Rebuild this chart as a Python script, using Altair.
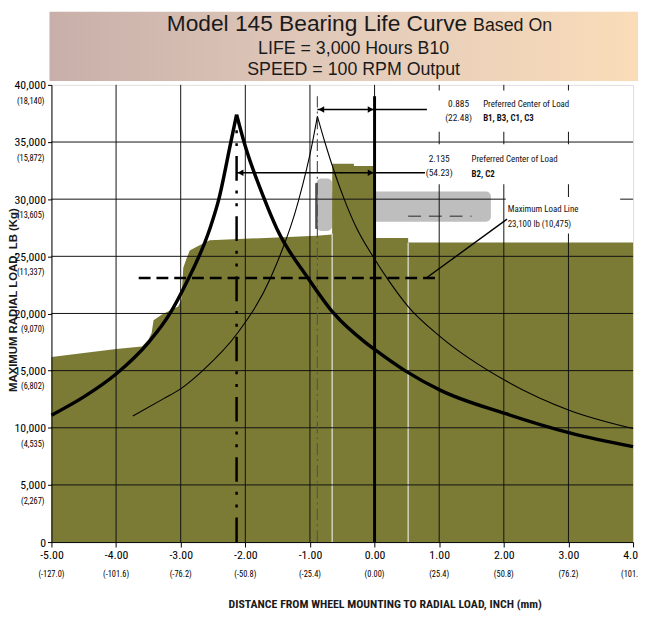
import altair as alt
import pandas as pd

# ---------------- data ----------------
x_ticks = [-5, -4, -3, -2, -1, 0, 1, 2, 3, 4]
x_mm = ["(-127.0)", "(-101.6)", "(-76.2)", "(-50.8)", "(-25.4)", "(0.00)",
        "(25.4)", "(50.8)", "(76.2)", "(101.6)"]
y_ticks = [0, 5000, 10000, 15000, 20000, 25000, 30000, 35000, 40000]
y_kg = ["", "(2,267)", "(4,535)", "(6,802)", "(9,070)", "(11,337)",
        "(13,605)", "(15,872)", "(18,140)"]
grid_x = [-4, -3, -2, -1, 0, 1, 2, 3]
grid_y = [5000, 10000, 15000, 20000, 25000, 30000, 35000]

# olive envelope of maximum load (steps drawn as near-vertical edges)
area_x = [-5.0, -4.0, -3.6, -3.5, -3.45, -3.42, -3.29, -3.04, -2.99, -2.96,
          -2.91, -2.86, -2.73, -2.55, -0.9, -0.657, -0.655, -0.321, -0.319,
          -0.001, 0.001, 0.519, 0.521, 4.0]
area_y = [16200, 16900, 17100, 17700, 18300, 19400, 19900, 20600, 21200,
          24000, 24800, 25500, 25900, 26400, 26800, 26900, 33100, 33100,
          32900, 32900, 26600, 26600, 26200, 26200]

# thick life curve (center of load -2.135)
thick_left_x = [-5.0, -4.5, -4.0, -3.5, -3.165, -2.91, -2.55, -2.41, -2.224, -2.135]
thick_left_y = [11100, 12700, 14700, 17450, 20000, 22700, 27390, 30000, 35000, 37400]
thick_right_x = [-2.135, -2.02, -1.705, -1.51, -1.03, -0.63, -0.14, 0.0, 0.47,
                 1.03, 2.03, 3.02, 4.0]
thick_right_y = [37400, 35000, 30000, 27390, 23100, 20000, 17450, 16850, 15000,
                 13250, 11230, 9550, 8350]

# thin life curve (center of load -0.885)
thin_left_x = [-3.74, -3.27, -2.99, -2.66, -2.12, -1.61, -1.18, -0.96, -0.885]
thin_left_y = [11030, 12530, 13450, 15000, 18290, 23100, 29800, 35000, 37250]
thin_right_x = [-0.885, -0.77, -0.47, -0.29, 0.0, 0.18, 0.52, 1.03, 2.03, 3.02, 4.0]
thin_right_y = [37250, 35000, 30000, 27600, 24770, 23200, 20600, 17910, 14110,
                11520, 9935]

max_load = 23100
max_load_x = [-3.65, 1.02]

# ---------------- styles ----------------
OLIVE = "#7b7b36"
NARROW = "Liberation Sans Narrow, Arial Narrow, Roboto Condensed, DejaVu Sans Condensed, sans-serif"
SANS = "Liberation Sans, Arial, Helvetica, sans-serif"
W, H = 589, 463

xs = alt.Scale(domain=[-5, 4], nice=False, zero=False)
ys = alt.Scale(domain=[0, 40000], nice=False, zero=True)

one = pd.DataFrame({"a": [0]})

# ---------------- title block ----------------
grad = alt.Gradient(
    gradient="linear",
    stops=[alt.GradientStop(color="#c8afa9", offset=0),
           alt.GradientStop(color="#e3cbbb", offset=0.5),
           alt.GradientStop(color="#fadcb8", offset=1)],
    x1=0, x2=1, y1=0, y2=0)
title_box = alt.Chart(one).mark_rect(color=grad).encode(
    x=alt.value(-2), x2=alt.value(594), y=alt.value(-74), y2=alt.value(-4))


def ptext(txt, x, y, size, align="center", font=SANS, weight="normal", angle=0, baseline="alphabetic"):
    return alt.Chart(one).mark_text(
        text=txt, font=font, fontSize=size, align=align, baseline=baseline,
        fontWeight=weight, color="#1a1a1a", angle=angle
    ).encode(x=alt.value(x), y=alt.value(y))


t1 = ptext("Model 145 Bearing Life Curve", 421, -55, 23, align="right")
t1b = ptext("Based On", 427, -55, 18, align="left")
t2 = ptext("LIFE = 3,000 Hours B10", 306, -31, 18)
t3 = ptext("SPEED = 100 RPM Output", 306, -10, 18)

# ---------------- gray bar (behind the envelope) ----------------
gray_df = pd.DataFrame({"x": [-0.9, -0.9], "x2": [1.8, -0.656],
                        "y": [28020, 27210], "y2": [30670, 31815]})
gray = alt.Chart(gray_df).mark_rect(color="#bebebe", cornerRadius=5).encode(
    x=alt.X("x:Q", scale=xs,
            axis=alt.Axis(values=x_ticks, grid=False, title=None, zindex=1,
                          labelExpr="datum.value < 0 ? '-' + format(-datum.value, '.2f') : format(datum.value, '.2f')",
                          labelFont=NARROW, labelFontSize=12, labelColor="black",
                          tickSize=5, labelPadding=3, tickColor="black", domainColor="black",
                          labelFlush=False, labelOverlap=False, labelBound=False)),
    x2="x2:Q",
    y=alt.Y("y:Q", scale=ys,
            axis=alt.Axis(values=y_ticks, grid=False, title=None, zindex=1,
                          labelExpr="format(datum.value, ',.0f')",
                          labelFont=NARROW, labelFontSize=12, labelColor="black",
                          tickSize=4, labelPadding=2, tickColor="black", domainColor="black",
                          labelOverlap=False)),
    y2="y2:Q")
gray_dash = alt.Chart(pd.DataFrame({"x": [0.52], "x2": [1.5], "y": [28510]})).mark_rule(
    color="#5a5a5a", strokeWidth=1.5, strokeDash=[13, 8]).encode(
    x=alt.X("x:Q", scale=xs), x2="x2:Q", y=alt.Y("y:Q", scale=ys))
gray_edge = alt.Chart(pd.DataFrame({"x": [-0.9], "y": [27400], "y2": [31400]})).mark_rule(
    color="#505050", strokeWidth=2.5).encode(
    x=alt.X("x:Q", scale=xs), y=alt.Y("y:Q", scale=ys), y2="y2:Q")

# ---------------- envelope ----------------
area_df = pd.DataFrame({"x": area_x, "y": area_y})
area = alt.Chart(area_df).mark_area(color=OLIVE, interpolate="linear").encode(
    x=alt.X("x:Q", scale=xs), y=alt.Y("y:Q", scale=ys))

light_df = pd.DataFrame({"x": [-0.656, 0.52], "y": [0, 0], "y2": [27000, 26200]})
light = alt.Chart(light_df).mark_rule(color="#d2d2bc", strokeWidth=1.5).encode(
    x=alt.X("x:Q", scale=xs), y=alt.Y("y:Q", scale=ys), y2="y2:Q")

# ---------------- grid ----------------
hgrid = alt.Chart(pd.DataFrame({"y": grid_y, "x": -5, "x2": 4})).mark_rule(
    color="#111", strokeWidth=1).encode(
    x=alt.X("x:Q", scale=xs), x2="x2:Q", y=alt.Y("y:Q", scale=ys))
vgrid = alt.Chart(pd.DataFrame({"x": grid_x, "y": 0, "y2": 40000})).mark_rule(
    color="#111", strokeWidth=1).encode(
    x=alt.X("x:Q", scale=xs), y=alt.Y("y:Q", scale=ys), y2="y2:Q")

# white label boxes
box_df = pd.DataFrame({"x": [0.83, 0.80, 2.03], "x2": [3.85, 3.85, 3.8],
                       "y": [35900, 31300, 27000], "y2": [39500, 34800, 30200]})
boxes = alt.Chart(box_df).mark_rect(color="white").encode(
    x=alt.X("x:Q", scale=xs), x2="x2:Q", y=alt.Y("y:Q", scale=ys), y2="y2:Q")

# ---------------- vertical reference lines ----------------
vthick = alt.Chart(pd.DataFrame({"x": [-2.135], "y": [0], "y2": [36600]})).mark_rule(
    color="black", strokeWidth=2.5, strokeDash=[25, 10, 3, 10, 3, 10]).encode(
    x=alt.X("x:Q", scale=xs), y=alt.Y("y:Q", scale=ys), y2="y2:Q")
vthin = alt.Chart(pd.DataFrame({"x": [-0.885], "y": [0], "y2": [39000]})).mark_rule(
    color="#555", strokeWidth=1.2, strokeDash=[12, 4, 2, 4]).encode(
    x=alt.X("x:Q", scale=xs), y=alt.Y("y:Q", scale=ys), y2="y2:Q")
vzero = alt.Chart(pd.DataFrame({"x": [0.0], "y": [0], "y2": [39000]})).mark_rule(
    color="black", strokeWidth=3).encode(
    x=alt.X("x:Q", scale=xs), y=alt.Y("y:Q", scale=ys), y2="y2:Q")

# ---------------- life curves ----------------
def curve_df(lx, ly, rx, ry):
    return pd.DataFrame({"x": lx + rx, "y": ly + ry,
                         "b": ["L"] * len(lx) + ["R"] * len(rx)})


thick = alt.Chart(curve_df(thick_left_x, thick_left_y, thick_right_x, thick_right_y)).mark_line(
    color="black", strokeWidth=3.5, interpolate="monotone").encode(
    x=alt.X("x:Q", scale=xs), y=alt.Y("y:Q", scale=ys), detail="b:N")
thin = alt.Chart(curve_df(thin_left_x, thin_left_y, thin_right_x, thin_right_y)).mark_line(
    color="black", strokeWidth=1.1, interpolate="monotone").encode(
    x=alt.X("x:Q", scale=xs), y=alt.Y("y:Q", scale=ys), detail="b:N")

# max load line
mload = alt.Chart(pd.DataFrame({"x": [max_load_x[0]], "x2": [max_load_x[1]], "y": [max_load]})).mark_rule(
    color="black", strokeWidth=2.5, strokeDash=[12, 6]).encode(
    x=alt.X("x:Q", scale=xs), x2="x2:Q", y=alt.Y("y:Q", scale=ys))
leader = alt.Chart(pd.DataFrame({"x": [0.8], "x2": [2.05], "y": [max_load], "y2": [28250]})).mark_rule(
    color="black", strokeWidth=1.4).encode(
    x=alt.X("x:Q", scale=xs), x2="x2:Q", y=alt.Y("y:Q", scale=ys), y2="y2:Q")

# dimension arrows
arr_df = pd.DataFrame({"x": [-0.885, -2.135], "x2": [0.81, 0.78], "y": [37840, 32310]})
arr_lines = alt.Chart(arr_df).mark_rule(color="black", strokeWidth=1.5).encode(
    x=alt.X("x:Q", scale=xs), x2="x2:Q", y=alt.Y("y:Q", scale=ys))
head_l = alt.Chart(pd.DataFrame({"x": [-0.885, -2.135], "y": [37840, 32310]})).mark_point(
    shape="triangle-left", filled=True, color="black", size=45, opacity=1, xOffset=4).encode(
    x=alt.X("x:Q", scale=xs), y=alt.Y("y:Q", scale=ys))
head_r = alt.Chart(pd.DataFrame({"x": [0.0, 0.0], "y": [37840, 32310]})).mark_point(
    shape="triangle-right", filled=True, color="black", size=45, opacity=1, xOffset=-4).encode(
    x=alt.X("x:Q", scale=xs), y=alt.Y("y:Q", scale=ys))

# ---------------- annotation texts ----------------
ann_c = pd.DataFrame({"x": [1.30, 1.30, 1.0, 1.0],
                      "y": [38358, 37062, 33520, 32310],
                      "t": ["0.885", "(22.48)", "2.135", "(54.23)"]})
ann_l = pd.DataFrame({"x": [1.68, 1.50, 2.06, 2.06],
                      "y": [38358, 33520, 29114, 27819],
                      "t": ["Preferred Center of Load", "Preferred Center of Load",
                            "Maximum Load Line", "23,100 lb (10,475)"]})
ann_b = pd.DataFrame({"x": [1.68, 1.50], "y": [37062, 32230],
                      "t": ["B1, B3, C1, C3", "B2, C2"]})
txt_c = alt.Chart(ann_c).mark_text(font=NARROW, fontSize=9.5, align="center", baseline="middle", color="#111").encode(
    x=alt.X("x:Q", scale=xs), y=alt.Y("y:Q", scale=ys), text="t:N")
txt_l = alt.Chart(ann_l).mark_text(font=NARROW, fontSize=9, align="left", baseline="middle", color="#111").encode(
    x=alt.X("x:Q", scale=xs), y=alt.Y("y:Q", scale=ys), text="t:N")
txt_b = alt.Chart(ann_b).mark_text(font=NARROW, fontSize=9, fontWeight="bold", align="left", baseline="middle", color="#111").encode(
    x=alt.X("x:Q", scale=xs), y=alt.Y("y:Q", scale=ys), text="t:N")

# secondary (metric) tick labels
ykg = alt.Chart(pd.DataFrame({"y": y_ticks, "t": y_kg})).mark_text(
    font=NARROW, fontSize=8.5, align="right", baseline="middle", color="black", dy=16).encode(
    x=alt.value(-7), y=alt.Y("y:Q", scale=ys), text="t:N")
xmm = alt.Chart(pd.DataFrame({"x": x_ticks, "t": x_mm})).mark_text(
    font=NARROW, fontSize=8.5, align="center", baseline="middle", color="black").encode(
    x=alt.X("x:Q", scale=xs), y=alt.value(H + 32), text="t:N")

ytitle = ptext("MAXIMUM RADIAL LOAD, LB (Kg)", -38, 218, 11.5, font=SANS, weight="bold",
               angle=270, baseline="middle")
xtitle = ptext("DISTANCE FROM WHEEL MOUNTING TO RADIAL LOAD, INCH (mm)", 338, 526, 12,
               font=NARROW, weight="bold", baseline="middle")

chart = alt.layer(
    gray, area, light, gray_edge, gray_dash, hgrid, vgrid, boxes,
    vthick, vthin, vzero, thin, thick, mload, leader,
    arr_lines, head_l, head_r, txt_c, txt_l, txt_b, ykg, xmm,
    title_box, t1, t1b, t2, t3, ytitle, xtitle
).properties(
    width=W, height=H,
    autosize=alt.AutoSizeParams(type="none"),
    padding={"left": 44, "top": 74, "right": 5, "bottom": 69},
).configure_view(stroke="#8a8a8a", strokeWidth=1).configure(background="white")

chart.save("out.html", embed_options={"renderer": "svg", "actions": False})
